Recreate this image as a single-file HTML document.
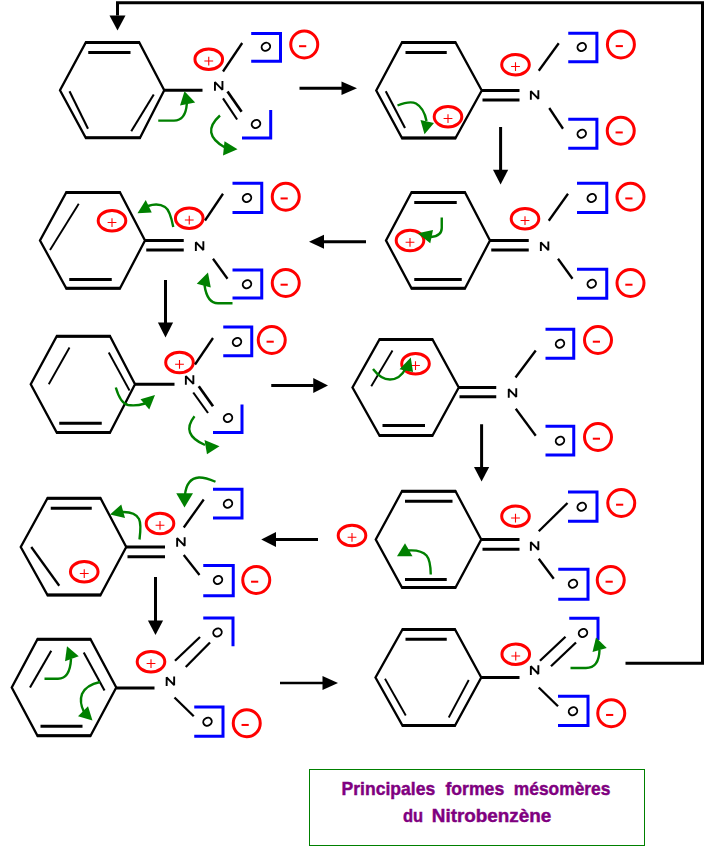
<!DOCTYPE html>
<html><head><meta charset="utf-8"><title>Nitrobenzène</title>
<style>html,body{margin:0;padding:0;background:#fff}body{width:704px;height:846px;overflow:hidden;font-family:"Liberation Sans",sans-serif}svg{display:block}</style>
</head><body>
<svg width="704" height="846" viewBox="0 0 704 846">
<rect width="704" height="846" fill="#fff"/>
<path d="M117.5,15.5 V2.7 H702.5 V663.3 H625.5" fill="none" stroke="#000" stroke-width="3" stroke-linejoin="miter"/>
<polygon points="109.5,15.5 125.5,15.5 117.5,30.5" fill="#000"/>
<polygon points="85.80,42.40 139.25,42.40 164.25,90.30 140.00,137.80 85.75,137.80 60.00,90.30" fill="none" stroke="#000" stroke-width="2.30" stroke-linejoin="miter"/>
<line x1="85.20" y1="42.40" x2="139.85" y2="42.40" stroke="#000" stroke-width="3.00"/>
<line x1="85.15" y1="137.80" x2="140.60" y2="137.80" stroke="#000" stroke-width="3.00"/>
<line x1="88.25" y1="52.50" x2="130.50" y2="52.50" stroke="#000" stroke-width="3.00" stroke-linecap="butt"/>
<line x1="69.50" y1="91.25" x2="88.00" y2="128.75" stroke="#000" stroke-width="2.10" stroke-linecap="butt"/>
<line x1="153.75" y1="94.50" x2="131.25" y2="131.25" stroke="#000" stroke-width="2.10" stroke-linecap="butt"/>
<line x1="164.25" y1="90.30" x2="202.50" y2="90.30" stroke="#000" stroke-width="3.00" stroke-linecap="butt"/>
<path d="M214.95,89.85 V82.05 L222.45,89.85 V82.05" fill="none" stroke="#000" stroke-width="1.9" stroke-linejoin="bevel" stroke-linecap="square"/>
<ellipse cx="208.75" cy="59.25" rx="13.80" ry="10.20" fill="none" stroke="#f00" stroke-width="3"/>
<path d="M204.35,61.05 h8.8 M208.75,56.65 v8.8" stroke="#f00" stroke-width="1.1" fill="none"/>
<line x1="223.00" y1="71.50" x2="242.20" y2="43.00" stroke="#000" stroke-width="2.30" stroke-linecap="butt"/>
<line x1="227.50" y1="91.40" x2="241.60" y2="111.80" stroke="#000" stroke-width="2.70" stroke-linecap="butt"/>
<line x1="223.00" y1="98.40" x2="237.10" y2="119.50" stroke="#000" stroke-width="2.10" stroke-linecap="butt"/>
<path d="M251.20,33.50 L280.50,33.50 L280.50,61.30 L251.20,61.30" fill="none" stroke="#00f" stroke-width="3" stroke-linejoin="miter"/>
<ellipse cx="265.90" cy="46.80" rx="4.4" ry="3.85" transform="rotate(-32 265.90 46.80)" fill="none" stroke="#000" stroke-width="1.9"/>
<path d="M270.70,110.00 L270.70,138.00 L242.00,138.00" fill="none" stroke="#00f" stroke-width="3" stroke-linejoin="miter"/>
<ellipse cx="256.00" cy="124.00" rx="4.4" ry="3.85" transform="rotate(-32 256.00 124.00)" fill="none" stroke="#000" stroke-width="1.9"/>
<circle cx="304.25" cy="44.50" r="13.50" fill="none" stroke="#f00" stroke-width="3"/>
<rect x="299.05" y="45.20" width="7.2" height="2" fill="#f00"/>
<line x1="299.50" y1="88.25" x2="342.00" y2="88.25" stroke="#000" stroke-width="3.00" stroke-linecap="butt"/>
<polygon points="341.50,81.45 341.50,95.05 357.00,88.25" fill="#000"/>
<path d="M158.25,120.6 H174 Q185.5,120.6 186.8,104" fill="none" stroke="#008000" stroke-width="2.40"/>
<polygon points="184.50,91.30 180.00,105.60 195.20,102.40" fill="#008000"/>
<path d="M220.00,115.50 Q200.00,133.50 225.00,147.50" fill="none" stroke="#008000" stroke-width="2.40"/>
<polygon points="224.50,141.25 223.00,155.50 237.50,149.25" fill="#008000"/>
<polygon points="402.00,42.50 455.50,42.50 481.75,90.50 455.50,138.00 402.00,138.00 376.25,90.50" fill="none" stroke="#000" stroke-width="2.30" stroke-linejoin="miter"/>
<line x1="401.40" y1="42.50" x2="456.10" y2="42.50" stroke="#000" stroke-width="3.00"/>
<line x1="401.40" y1="138.00" x2="456.10" y2="138.00" stroke="#000" stroke-width="3.00"/>
<line x1="405.50" y1="52.50" x2="446.75" y2="52.50" stroke="#000" stroke-width="3.00" stroke-linecap="butt"/>
<line x1="385.75" y1="91.25" x2="405.00" y2="128.00" stroke="#000" stroke-width="2.10" stroke-linecap="butt"/>
<line x1="481.75" y1="90.50" x2="519.50" y2="90.50" stroke="#000" stroke-width="3.00" stroke-linecap="butt"/>
<line x1="482.50" y1="100.00" x2="519.50" y2="100.00" stroke="#000" stroke-width="3.00" stroke-linecap="butt"/>
<path d="M530.85,98.90 V91.10 L538.35,98.90 V91.10" fill="none" stroke="#000" stroke-width="1.9" stroke-linejoin="bevel" stroke-linecap="square"/>
<ellipse cx="448.00" cy="116.75" rx="13.80" ry="10.20" fill="none" stroke="#f00" stroke-width="3"/>
<path d="M443.60,118.55 h8.8 M448.00,114.15 v8.8" stroke="#f00" stroke-width="1.1" fill="none"/>
<ellipse cx="515.50" cy="64.75" rx="13.80" ry="10.20" fill="none" stroke="#f00" stroke-width="3"/>
<path d="M511.10,66.55 h8.8 M515.50,62.15 v8.8" stroke="#f00" stroke-width="1.1" fill="none"/>
<line x1="538.75" y1="70.75" x2="558.75" y2="43.25" stroke="#000" stroke-width="2.30" stroke-linecap="butt"/>
<line x1="549.25" y1="108.00" x2="563.00" y2="128.75" stroke="#000" stroke-width="2.30" stroke-linecap="butt"/>
<path d="M568.25,33.20 L596.90,33.20 L596.90,61.75 L568.25,61.75" fill="none" stroke="#00f" stroke-width="3" stroke-linejoin="miter"/>
<ellipse cx="581.75" cy="47.00" rx="4.4" ry="3.85" transform="rotate(-32 581.75 47.00)" fill="none" stroke="#000" stroke-width="1.9"/>
<path d="M568.25,119.25 L596.90,119.25 L596.90,148.25 L568.25,148.25" fill="none" stroke="#00f" stroke-width="3" stroke-linejoin="miter"/>
<ellipse cx="581.75" cy="133.75" rx="4.4" ry="3.85" transform="rotate(-32 581.75 133.75)" fill="none" stroke="#000" stroke-width="1.9"/>
<circle cx="620.90" cy="44.40" r="13.50" fill="none" stroke="#f00" stroke-width="3"/>
<rect x="615.70" y="45.10" width="7.2" height="2" fill="#f00"/>
<circle cx="620.75" cy="130.75" r="13.50" fill="none" stroke="#f00" stroke-width="3"/>
<rect x="615.55" y="131.45" width="7.2" height="2" fill="#f00"/>
<path d="M397.5,105.5 Q410,100.5 416,103.5 Q424,108 426.5,121" fill="none" stroke="#008000" stroke-width="2.40"/>
<polygon points="420.50,120.00 434.00,123.00 424.50,134.25" fill="#008000"/>
<line x1="500.60" y1="127.00" x2="500.60" y2="170.25" stroke="#000" stroke-width="3.00" stroke-linecap="butt"/>
<polygon points="493.00,169.75 508.20,169.75 500.60,184.50" fill="#000"/>
<polygon points="411.50,192.50 465.00,192.50 490.00,240.50 465.00,288.25 411.50,288.25 386.00,240.50" fill="none" stroke="#000" stroke-width="2.30" stroke-linejoin="miter"/>
<line x1="410.90" y1="192.50" x2="465.60" y2="192.50" stroke="#000" stroke-width="3.00"/>
<line x1="410.90" y1="288.25" x2="465.60" y2="288.25" stroke="#000" stroke-width="3.00"/>
<line x1="414.25" y1="202.50" x2="456.75" y2="202.50" stroke="#000" stroke-width="3.00" stroke-linecap="butt"/>
<line x1="414.25" y1="279.50" x2="461.75" y2="279.50" stroke="#000" stroke-width="3.00" stroke-linecap="butt"/>
<line x1="490.00" y1="240.50" x2="528.75" y2="240.50" stroke="#000" stroke-width="3.00" stroke-linecap="butt"/>
<line x1="491.25" y1="250.00" x2="528.75" y2="250.00" stroke="#000" stroke-width="3.00" stroke-linecap="butt"/>
<path d="M540.85,250.15 V242.35 L548.35,250.15 V242.35" fill="none" stroke="#000" stroke-width="1.9" stroke-linejoin="bevel" stroke-linecap="square"/>
<ellipse cx="410.00" cy="240.50" rx="13.80" ry="10.20" fill="none" stroke="#f00" stroke-width="3"/>
<path d="M405.60,242.30 h8.8 M410.00,237.90 v8.8" stroke="#f00" stroke-width="1.1" fill="none"/>
<ellipse cx="525.00" cy="218.75" rx="13.80" ry="10.20" fill="none" stroke="#f00" stroke-width="3"/>
<path d="M520.60,220.55 h8.8 M525.00,216.15 v8.8" stroke="#f00" stroke-width="1.1" fill="none"/>
<line x1="548.75" y1="220.75" x2="568.00" y2="193.75" stroke="#000" stroke-width="2.30" stroke-linecap="butt"/>
<line x1="558.00" y1="258.75" x2="572.50" y2="278.75" stroke="#000" stroke-width="2.30" stroke-linecap="butt"/>
<path d="M577.00,183.25 L606.75,183.25 L606.75,212.50 L577.00,212.50" fill="none" stroke="#00f" stroke-width="3" stroke-linejoin="miter"/>
<ellipse cx="591.75" cy="198.00" rx="4.4" ry="3.85" transform="rotate(-32 591.75 198.00)" fill="none" stroke="#000" stroke-width="1.9"/>
<path d="M577.00,269.25 L606.75,269.25 L606.75,298.25 L577.00,298.25" fill="none" stroke="#00f" stroke-width="3" stroke-linejoin="miter"/>
<ellipse cx="591.75" cy="283.75" rx="4.4" ry="3.85" transform="rotate(-32 591.75 283.75)" fill="none" stroke="#000" stroke-width="1.9"/>
<circle cx="630.50" cy="196.75" r="13.50" fill="none" stroke="#f00" stroke-width="3"/>
<rect x="625.30" y="197.45" width="7.2" height="2" fill="#f00"/>
<circle cx="630.50" cy="283.00" r="13.50" fill="none" stroke="#f00" stroke-width="3"/>
<rect x="625.30" y="283.70" width="7.2" height="2" fill="#f00"/>
<path d="M441.75,217.5 V228 Q441.75,236 431,237" fill="none" stroke="#008000" stroke-width="2.40"/>
<polygon points="417.75,233.25 433.00,230.00 430.25,243.25" fill="#008000"/>
<line x1="366.00" y1="241.75" x2="323.50" y2="241.75" stroke="#000" stroke-width="3.00" stroke-linecap="butt"/>
<polygon points="324.00,234.75 324.00,248.75 309.00,241.75" fill="#000"/>
<polygon points="66.25,192.50 120.00,192.50 145.00,240.50 120.00,288.25 66.25,288.25 40.00,240.50" fill="none" stroke="#000" stroke-width="2.30" stroke-linejoin="miter"/>
<line x1="65.65" y1="192.50" x2="120.60" y2="192.50" stroke="#000" stroke-width="3.00"/>
<line x1="65.65" y1="288.25" x2="120.60" y2="288.25" stroke="#000" stroke-width="3.00"/>
<line x1="78.75" y1="203.75" x2="50.00" y2="250.00" stroke="#000" stroke-width="1.90" stroke-linecap="butt"/>
<line x1="69.25" y1="279.50" x2="111.75" y2="279.50" stroke="#000" stroke-width="3.00" stroke-linecap="butt"/>
<line x1="145.00" y1="240.50" x2="183.75" y2="240.50" stroke="#000" stroke-width="3.00" stroke-linecap="butt"/>
<line x1="146.25" y1="250.00" x2="183.75" y2="250.00" stroke="#000" stroke-width="3.00" stroke-linecap="butt"/>
<path d="M195.85,250.00 V242.20 L203.35,250.00 V242.20" fill="none" stroke="#000" stroke-width="1.9" stroke-linejoin="bevel" stroke-linecap="square"/>
<ellipse cx="112.00" cy="220.75" rx="13.80" ry="10.20" fill="none" stroke="#f00" stroke-width="3"/>
<path d="M107.60,222.55 h8.8 M112.00,218.15 v8.8" stroke="#f00" stroke-width="1.1" fill="none"/>
<ellipse cx="189.25" cy="218.25" rx="13.80" ry="10.20" fill="none" stroke="#f00" stroke-width="3"/>
<path d="M184.85,220.05 h8.8 M189.25,215.65 v8.8" stroke="#f00" stroke-width="1.1" fill="none"/>
<line x1="205.00" y1="220.50" x2="223.00" y2="193.75" stroke="#000" stroke-width="2.30" stroke-linecap="butt"/>
<line x1="213.00" y1="258.75" x2="227.50" y2="278.75" stroke="#000" stroke-width="2.30" stroke-linecap="butt"/>
<path d="M232.50,183.25 L261.75,183.25 L261.75,212.50 L232.50,212.50" fill="none" stroke="#00f" stroke-width="3" stroke-linejoin="miter"/>
<ellipse cx="247.00" cy="198.00" rx="4.4" ry="3.85" transform="rotate(-32 247.00 198.00)" fill="none" stroke="#000" stroke-width="1.9"/>
<path d="M232.50,270.00 L261.75,270.00 L261.75,298.00 L232.50,298.00" fill="none" stroke="#00f" stroke-width="3" stroke-linejoin="miter"/>
<ellipse cx="247.00" cy="284.25" rx="4.4" ry="3.85" transform="rotate(-32 247.00 284.25)" fill="none" stroke="#000" stroke-width="1.9"/>
<circle cx="285.75" cy="196.75" r="13.50" fill="none" stroke="#f00" stroke-width="3"/>
<rect x="280.55" y="197.45" width="7.2" height="2" fill="#f00"/>
<circle cx="285.75" cy="283.00" r="13.50" fill="none" stroke="#f00" stroke-width="3"/>
<rect x="280.55" y="283.70" width="7.2" height="2" fill="#f00"/>
<path d="M173.25,227 Q170,210 165,207 Q158,202.5 148,206" fill="none" stroke="#008000" stroke-width="2.40"/>
<polygon points="137.50,213.25 145.75,200.00 151.75,212.50" fill="#008000"/>
<path d="M232.5,303.25 H218 Q207,303.25 204.5,285" fill="none" stroke="#008000" stroke-width="2.40"/>
<polygon points="208.00,272.50 196.75,283.75 210.75,287.50" fill="#008000"/>
<line x1="165.50" y1="280.00" x2="165.50" y2="323.00" stroke="#000" stroke-width="3.00" stroke-linecap="butt"/>
<polygon points="157.90,322.50 173.10,322.50 165.50,337.50" fill="#000"/>
<polygon points="56.75,336.25 110.00,336.25 135.00,384.25 110.00,432.50 56.75,432.50 30.75,384.25" fill="none" stroke="#000" stroke-width="2.30" stroke-linejoin="miter"/>
<line x1="56.15" y1="336.25" x2="110.60" y2="336.25" stroke="#000" stroke-width="3.00"/>
<line x1="56.15" y1="432.50" x2="110.60" y2="432.50" stroke="#000" stroke-width="3.00"/>
<line x1="69.50" y1="347.50" x2="48.75" y2="384.25" stroke="#000" stroke-width="1.90" stroke-linecap="butt"/>
<line x1="108.75" y1="352.50" x2="129.50" y2="390.50" stroke="#000" stroke-width="1.90" stroke-linecap="butt"/>
<line x1="59.25" y1="423.25" x2="101.75" y2="423.25" stroke="#000" stroke-width="3.00" stroke-linecap="butt"/>
<line x1="135.00" y1="384.25" x2="174.50" y2="384.25" stroke="#000" stroke-width="3.00" stroke-linecap="butt"/>
<path d="M185.85,383.90 V376.10 L193.35,383.90 V376.10" fill="none" stroke="#000" stroke-width="1.9" stroke-linejoin="bevel" stroke-linecap="square"/>
<ellipse cx="179.50" cy="362.50" rx="13.80" ry="10.20" fill="none" stroke="#f00" stroke-width="3"/>
<path d="M175.10,364.30 h8.8 M179.50,359.90 v8.8" stroke="#f00" stroke-width="1.1" fill="none"/>
<line x1="195.00" y1="364.50" x2="213.00" y2="338.00" stroke="#000" stroke-width="2.30" stroke-linecap="butt"/>
<line x1="198.75" y1="386.25" x2="213.00" y2="406.25" stroke="#000" stroke-width="2.70" stroke-linecap="butt"/>
<line x1="193.25" y1="392.50" x2="208.00" y2="413.00" stroke="#000" stroke-width="2.10" stroke-linecap="butt"/>
<path d="M223.25,327.00 L251.75,327.00 L251.75,355.75 L223.25,355.75" fill="none" stroke="#00f" stroke-width="3" stroke-linejoin="miter"/>
<ellipse cx="237.00" cy="342.00" rx="4.4" ry="3.85" transform="rotate(-32 237.00 342.00)" fill="none" stroke="#000" stroke-width="1.9"/>
<path d="M242.00,404.50 L242.00,432.50 L213.00,432.50" fill="none" stroke="#00f" stroke-width="3" stroke-linejoin="miter"/>
<ellipse cx="228.00" cy="418.00" rx="4.4" ry="3.85" transform="rotate(-32 228.00 418.00)" fill="none" stroke="#000" stroke-width="1.9"/>
<circle cx="271.75" cy="340.00" r="13.50" fill="none" stroke="#f00" stroke-width="3"/>
<rect x="266.55" y="340.70" width="7.2" height="2" fill="#f00"/>
<line x1="271.25" y1="385.50" x2="313.75" y2="385.50" stroke="#000" stroke-width="3.00" stroke-linecap="butt"/>
<polygon points="313.25,378.00 313.25,393.00 328.00,385.50" fill="#000"/>
<path d="M115.8,387.5 Q120.5,403.5 128,405 Q136,406.3 145,403.5" fill="none" stroke="#008000" stroke-width="2.40"/>
<polygon points="155.00,395.00 140.50,399.25 149.25,409.50" fill="#008000"/>
<path d="M194.50,416.25 Q180.25,434.38 205.00,445.00" fill="none" stroke="#008000" stroke-width="2.40"/>
<polygon points="219.50,446.25 204.50,440.00 207.00,454.25" fill="#008000"/>
<polygon points="379.50,339.50 432.50,339.50 458.75,387.50 432.50,435.50 379.50,435.50 352.50,387.50" fill="none" stroke="#000" stroke-width="2.30" stroke-linejoin="miter"/>
<line x1="378.90" y1="339.50" x2="433.10" y2="339.50" stroke="#000" stroke-width="3.00"/>
<line x1="378.90" y1="435.50" x2="433.10" y2="435.50" stroke="#000" stroke-width="3.00"/>
<line x1="392.50" y1="350.50" x2="371.25" y2="386.25" stroke="#000" stroke-width="1.90" stroke-linecap="butt"/>
<line x1="382.50" y1="425.50" x2="425.00" y2="425.50" stroke="#000" stroke-width="3.00" stroke-linecap="butt"/>
<line x1="458.75" y1="387.50" x2="496.25" y2="387.50" stroke="#000" stroke-width="3.00" stroke-linecap="butt"/>
<line x1="459.50" y1="396.75" x2="496.25" y2="396.75" stroke="#000" stroke-width="3.00" stroke-linecap="butt"/>
<path d="M508.75,396.90 V389.10 L516.25,396.90 V389.10" fill="none" stroke="#000" stroke-width="1.9" stroke-linejoin="bevel" stroke-linecap="square"/>
<ellipse cx="415.50" cy="363.75" rx="13.80" ry="10.20" fill="none" stroke="#f00" stroke-width="3"/>
<path d="M411.10,365.55 h8.8 M415.50,361.15 v8.8" stroke="#f00" stroke-width="1.1" fill="none"/>
<line x1="515.50" y1="377.50" x2="535.75" y2="350.50" stroke="#000" stroke-width="2.30" stroke-linecap="butt"/>
<line x1="515.75" y1="408.75" x2="535.75" y2="435.75" stroke="#000" stroke-width="2.30" stroke-linecap="butt"/>
<path d="M545.50,329.25 L573.75,329.25 L573.75,358.25 L545.50,358.25" fill="none" stroke="#00f" stroke-width="3" stroke-linejoin="miter"/>
<ellipse cx="560.00" cy="343.75" rx="4.4" ry="3.85" transform="rotate(-32 560.00 343.75)" fill="none" stroke="#000" stroke-width="1.9"/>
<path d="M545.50,426.25 L573.75,426.25 L573.75,455.00 L545.50,455.00" fill="none" stroke="#00f" stroke-width="3" stroke-linejoin="miter"/>
<ellipse cx="560.00" cy="440.75" rx="4.4" ry="3.85" transform="rotate(-32 560.00 440.75)" fill="none" stroke="#000" stroke-width="1.9"/>
<circle cx="598.00" cy="340.00" r="13.50" fill="none" stroke="#f00" stroke-width="3"/>
<rect x="592.80" y="340.70" width="7.2" height="2" fill="#f00"/>
<circle cx="598.00" cy="437.00" r="13.50" fill="none" stroke="#f00" stroke-width="3"/>
<rect x="592.80" y="437.70" width="7.2" height="2" fill="#f00"/>
<path d="M373,369 Q381,379.5 390,379.5 Q400,379.5 406,368" fill="none" stroke="#008000" stroke-width="2.40"/>
<polygon points="410.75,357.50 399.50,369.25 413.00,372.00" fill="#008000"/>
<line x1="481.60" y1="424.25" x2="481.60" y2="467.50" stroke="#000" stroke-width="3.00" stroke-linecap="butt"/>
<polygon points="474.00,467.00 489.20,467.00 481.60,481.50" fill="#000"/>
<polygon points="47.50,498.25 100.50,498.25 126.25,547.00 100.50,595.00 47.50,595.00 20.75,547.00" fill="none" stroke="#000" stroke-width="2.30" stroke-linejoin="miter"/>
<line x1="46.90" y1="498.25" x2="101.10" y2="498.25" stroke="#000" stroke-width="3.00"/>
<line x1="46.90" y1="595.00" x2="101.10" y2="595.00" stroke="#000" stroke-width="3.00"/>
<line x1="50.75" y1="508.25" x2="91.75" y2="508.25" stroke="#000" stroke-width="3.00" stroke-linecap="butt"/>
<line x1="31.25" y1="547.00" x2="59.25" y2="585.75" stroke="#000" stroke-width="2.30" stroke-linecap="butt"/>
<line x1="126.25" y1="547.00" x2="165.00" y2="547.00" stroke="#000" stroke-width="3.00" stroke-linecap="butt"/>
<line x1="127.50" y1="556.75" x2="165.00" y2="556.75" stroke="#000" stroke-width="3.00" stroke-linecap="butt"/>
<path d="M177.15,545.90 V538.10 L184.65,545.90 V538.10" fill="none" stroke="#000" stroke-width="1.9" stroke-linejoin="bevel" stroke-linecap="square"/>
<ellipse cx="84.25" cy="571.75" rx="13.80" ry="10.20" fill="none" stroke="#f00" stroke-width="3"/>
<path d="M79.85,573.55 h8.8 M84.25,569.15 v8.8" stroke="#f00" stroke-width="1.1" fill="none"/>
<ellipse cx="160.00" cy="523.50" rx="13.80" ry="10.20" fill="none" stroke="#f00" stroke-width="3"/>
<path d="M155.60,525.30 h8.8 M160.00,520.90 v8.8" stroke="#f00" stroke-width="1.1" fill="none"/>
<line x1="183.75" y1="527.50" x2="203.75" y2="499.50" stroke="#000" stroke-width="2.30" stroke-linecap="butt"/>
<line x1="183.75" y1="555.00" x2="199.50" y2="575.00" stroke="#000" stroke-width="2.30" stroke-linecap="butt"/>
<path d="M213.00,489.25 L242.00,489.25 L242.00,518.00 L213.00,518.00" fill="none" stroke="#00f" stroke-width="3" stroke-linejoin="miter"/>
<ellipse cx="228.00" cy="503.75" rx="4.4" ry="3.85" transform="rotate(-32 228.00 503.75)" fill="none" stroke="#000" stroke-width="1.9"/>
<path d="M203.25,565.50 L233.25,565.50 L233.25,595.75 L203.25,595.75" fill="none" stroke="#00f" stroke-width="3" stroke-linejoin="miter"/>
<ellipse cx="218.00" cy="580.00" rx="4.4" ry="3.85" transform="rotate(-32 218.00 580.00)" fill="none" stroke="#000" stroke-width="1.9"/>
<circle cx="256.25" cy="580.00" r="13.50" fill="none" stroke="#f00" stroke-width="3"/>
<rect x="251.05" y="580.70" width="7.2" height="2" fill="#f00"/>
<path d="M139.5,539.5 Q141.5,524 139,519 Q135,511.5 122,512" fill="none" stroke="#008000" stroke-width="2.40"/>
<polygon points="110.00,514.50 121.25,504.50 125.00,518.00" fill="#008000"/>
<path d="M215.5,481.75 Q205,477.3 199,477.5 Q186.5,478.5 185,495" fill="none" stroke="#008000" stroke-width="2.40"/>
<polygon points="176.25,493.25 193.00,493.25 184.50,507.50" fill="#008000"/>
<line x1="318.00" y1="539.50" x2="275.50" y2="539.50" stroke="#000" stroke-width="3.00" stroke-linecap="butt"/>
<polygon points="276.00,532.10 276.00,546.90 261.25,539.50" fill="#000"/>
<line x1="155.50" y1="577.00" x2="155.50" y2="621.00" stroke="#000" stroke-width="3.00" stroke-linecap="butt"/>
<polygon points="147.90,620.50 163.10,620.50 155.50,635.00" fill="#000"/>
<polygon points="402.00,491.25 455.50,491.25 481.25,539.50 455.50,587.50 402.00,587.50 375.75,539.50" fill="none" stroke="#000" stroke-width="2.30" stroke-linejoin="miter"/>
<line x1="401.40" y1="491.25" x2="456.10" y2="491.25" stroke="#000" stroke-width="3.00"/>
<line x1="401.40" y1="587.50" x2="456.10" y2="587.50" stroke="#000" stroke-width="3.00"/>
<line x1="405.00" y1="501.25" x2="452.50" y2="501.25" stroke="#000" stroke-width="3.00" stroke-linecap="butt"/>
<line x1="405.00" y1="579.50" x2="446.75" y2="579.50" stroke="#000" stroke-width="3.00" stroke-linecap="butt"/>
<line x1="481.25" y1="539.50" x2="519.50" y2="539.50" stroke="#000" stroke-width="3.00" stroke-linecap="butt"/>
<line x1="482.50" y1="549.25" x2="519.50" y2="549.25" stroke="#000" stroke-width="3.00" stroke-linecap="butt"/>
<path d="M530.85,549.90 V542.10 L538.35,549.90 V542.10" fill="none" stroke="#000" stroke-width="1.9" stroke-linejoin="bevel" stroke-linecap="square"/>
<ellipse cx="352.00" cy="535.50" rx="13.80" ry="10.20" fill="none" stroke="#f00" stroke-width="3"/>
<path d="M347.60,537.30 h8.8 M352.00,532.90 v8.8" stroke="#f00" stroke-width="1.1" fill="none"/>
<ellipse cx="515.50" cy="516.25" rx="13.80" ry="10.20" fill="none" stroke="#f00" stroke-width="3"/>
<path d="M511.10,518.05 h8.8 M515.50,513.65 v8.8" stroke="#f00" stroke-width="1.1" fill="none"/>
<line x1="538.75" y1="531.25" x2="567.50" y2="503.00" stroke="#000" stroke-width="2.30" stroke-linecap="butt"/>
<line x1="538.75" y1="558.75" x2="553.75" y2="578.75" stroke="#000" stroke-width="2.30" stroke-linecap="butt"/>
<path d="M568.00,492.00 L597.00,492.00 L597.00,521.25 L568.00,521.25" fill="none" stroke="#00f" stroke-width="3" stroke-linejoin="miter"/>
<ellipse cx="581.75" cy="506.75" rx="4.4" ry="3.85" transform="rotate(-32 581.75 506.75)" fill="none" stroke="#000" stroke-width="1.9"/>
<path d="M558.25,569.25 L588.00,569.25 L588.00,599.25 L558.25,599.25" fill="none" stroke="#00f" stroke-width="3" stroke-linejoin="miter"/>
<ellipse cx="573.00" cy="583.75" rx="4.4" ry="3.85" transform="rotate(-32 573.00 583.75)" fill="none" stroke="#000" stroke-width="1.9"/>
<circle cx="621.25" cy="503.00" r="13.50" fill="none" stroke="#f00" stroke-width="3"/>
<rect x="616.05" y="503.70" width="7.2" height="2" fill="#f00"/>
<circle cx="610.75" cy="580.00" r="13.50" fill="none" stroke="#f00" stroke-width="3"/>
<rect x="605.55" y="580.70" width="7.2" height="2" fill="#f00"/>
<path d="M430.75,574.5 Q430.5,560 426.5,555.5 Q421,549.5 408,550.5" fill="none" stroke="#008000" stroke-width="2.40"/>
<polygon points="397.00,556.25 405.00,543.25 412.50,556.25" fill="#008000"/>
<polygon points="37.50,639.25 90.50,639.25 116.25,687.50 90.50,735.75 37.50,735.75 11.75,687.50" fill="none" stroke="#000" stroke-width="2.30" stroke-linejoin="miter"/>
<line x1="36.90" y1="639.25" x2="91.10" y2="639.25" stroke="#000" stroke-width="3.00"/>
<line x1="36.90" y1="735.75" x2="91.10" y2="735.75" stroke="#000" stroke-width="3.00"/>
<line x1="51.25" y1="650.75" x2="30.00" y2="687.50" stroke="#000" stroke-width="2.10" stroke-linecap="butt"/>
<line x1="83.75" y1="652.50" x2="104.50" y2="690.50" stroke="#000" stroke-width="2.10" stroke-linecap="butt"/>
<line x1="40.50" y1="726.25" x2="82.50" y2="726.25" stroke="#000" stroke-width="3.00" stroke-linecap="butt"/>
<line x1="116.25" y1="688.00" x2="154.50" y2="688.00" stroke="#000" stroke-width="3.00" stroke-linecap="butt"/>
<path d="M166.65,685.15 V677.35 L174.15,685.15 V677.35" fill="none" stroke="#000" stroke-width="1.9" stroke-linejoin="bevel" stroke-linecap="square"/>
<ellipse cx="151.00" cy="661.75" rx="13.80" ry="10.20" fill="none" stroke="#f00" stroke-width="3"/>
<path d="M146.60,663.55 h8.8 M151.00,659.15 v8.8" stroke="#f00" stroke-width="1.1" fill="none"/>
<line x1="175.00" y1="660.75" x2="200.00" y2="637.00" stroke="#000" stroke-width="2.30" stroke-linecap="butt"/>
<line x1="185.75" y1="667.00" x2="210.00" y2="642.50" stroke="#000" stroke-width="2.30" stroke-linecap="butt"/>
<ellipse cx="217.50" cy="632.50" rx="4.4" ry="3.85" transform="rotate(-32 217.50 632.50)" fill="none" stroke="#000" stroke-width="1.9"/>
<path d="M203.25,618.00 L233.00,618.00 L233.00,646.25" fill="none" stroke="#00f" stroke-width="3" stroke-linejoin="miter"/>
<line x1="174.50" y1="697.50" x2="193.75" y2="716.25" stroke="#000" stroke-width="2.30" stroke-linecap="butt"/>
<path d="M194.25,707.00 L223.00,707.00 L223.00,736.25 L194.25,736.25" fill="none" stroke="#00f" stroke-width="3" stroke-linejoin="miter"/>
<ellipse cx="207.50" cy="721.75" rx="4.4" ry="3.85" transform="rotate(-32 207.50 721.75)" fill="none" stroke="#000" stroke-width="1.9"/>
<circle cx="246.75" cy="723.25" r="13.50" fill="none" stroke="#f00" stroke-width="3"/>
<rect x="241.55" y="723.95" width="7.2" height="2" fill="#f00"/>
<path d="M44.5,678.75 H58 Q70,678.75 71,659" fill="none" stroke="#008000" stroke-width="2.40"/>
<polygon points="67.00,646.25 65.00,661.25 78.75,656.25" fill="#008000"/>
<path d="M100,682 Q86,685 82,694 Q79,702 84,712" fill="none" stroke="#008000" stroke-width="2.40"/>
<polygon points="92.50,720.50 78.00,716.25 88.00,706.25" fill="#008000"/>
<line x1="280.00" y1="683.00" x2="323.00" y2="683.00" stroke="#000" stroke-width="2.30" stroke-linecap="butt"/>
<polygon points="322.50,675.90 322.50,690.10 338.00,683.00" fill="#000"/>
<polygon points="402.50,629.50 455.00,629.50 481.25,677.50 455.00,725.50 402.50,725.50 375.50,677.50" fill="none" stroke="#000" stroke-width="2.30" stroke-linejoin="miter"/>
<line x1="401.90" y1="629.50" x2="455.60" y2="629.50" stroke="#000" stroke-width="3.00"/>
<line x1="401.90" y1="725.50" x2="455.60" y2="725.50" stroke="#000" stroke-width="3.00"/>
<line x1="405.50" y1="639.25" x2="446.75" y2="639.25" stroke="#000" stroke-width="3.00" stroke-linecap="butt"/>
<line x1="385.00" y1="678.75" x2="405.75" y2="715.50" stroke="#000" stroke-width="1.90" stroke-linecap="butt"/>
<line x1="468.75" y1="680.00" x2="448.75" y2="717.50" stroke="#000" stroke-width="1.90" stroke-linecap="butt"/>
<line x1="481.25" y1="677.50" x2="519.50" y2="677.50" stroke="#000" stroke-width="3.00" stroke-linecap="butt"/>
<path d="M530.85,674.00 V666.20 L538.35,674.00 V666.20" fill="none" stroke="#000" stroke-width="1.9" stroke-linejoin="bevel" stroke-linecap="square"/>
<ellipse cx="515.75" cy="654.25" rx="13.80" ry="10.20" fill="none" stroke="#f00" stroke-width="3"/>
<path d="M511.35,656.05 h8.8 M515.75,651.65 v8.8" stroke="#f00" stroke-width="1.1" fill="none"/>
<line x1="540.00" y1="660.75" x2="565.50" y2="636.75" stroke="#000" stroke-width="2.30" stroke-linecap="butt"/>
<line x1="551.00" y1="666.25" x2="576.00" y2="642.50" stroke="#000" stroke-width="2.30" stroke-linecap="butt"/>
<ellipse cx="583.00" cy="633.00" rx="4.4" ry="3.85" transform="rotate(-32 583.00 633.00)" fill="none" stroke="#000" stroke-width="1.9"/>
<path d="M569.25,618.25 L598.00,618.25 L598.00,640.00" fill="none" stroke="#00f" stroke-width="3" stroke-linejoin="miter"/>
<line x1="538.75" y1="687.50" x2="558.00" y2="706.25" stroke="#000" stroke-width="2.30" stroke-linecap="butt"/>
<path d="M558.00,696.25 L588.00,696.25 L588.00,725.50 L558.00,725.50" fill="none" stroke="#00f" stroke-width="3" stroke-linejoin="miter"/>
<ellipse cx="573.00" cy="711.25" rx="4.4" ry="3.85" transform="rotate(-32 573.00 711.25)" fill="none" stroke="#000" stroke-width="1.9"/>
<circle cx="611.25" cy="713.25" r="13.50" fill="none" stroke="#f00" stroke-width="3"/>
<rect x="606.05" y="713.95" width="7.2" height="2" fill="#f00"/>
<path d="M570.5,668 H586 Q599,668 599.5,650" fill="none" stroke="#008000" stroke-width="2.40"/>
<polygon points="596.00,637.50 592.50,652.00 606.75,648.00" fill="#008000"/>
<rect x="309.5" y="769.5" width="335" height="76" fill="none" stroke="#008000" stroke-width="1"/>
<g font-family="'Liberation Sans', sans-serif" font-weight="bold" fill="#800080" stroke="#800080" stroke-width="0.45">
<text x="341.60" y="795.20" textLength="93.60" lengthAdjust="spacingAndGlyphs" font-size="19.0">Principales</text>
<text x="445.40" y="795.20" textLength="58.80" lengthAdjust="spacingAndGlyphs" font-size="19.0">formes</text>
<text x="513.80" y="795.20" textLength="96.60" lengthAdjust="spacingAndGlyphs" font-size="19.0">mésomères</text>
<text x="403.00" y="821.70" textLength="20.20" lengthAdjust="spacingAndGlyphs" font-size="19.0">du</text>
<text x="431.80" y="821.70" textLength="119.50" lengthAdjust="spacingAndGlyphs" font-size="19.0">Nitrobenzène</text>
</g>
</svg>
</body></html>
